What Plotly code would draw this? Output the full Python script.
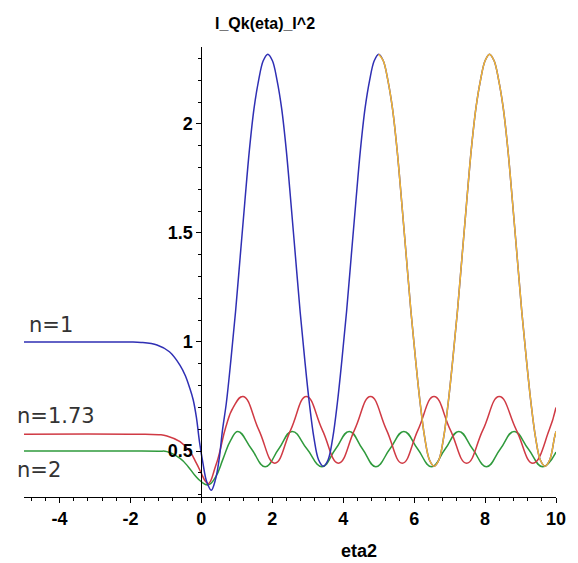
import plotly.graph_objects as go

# |Qk(eta)|^2 against eta2 for three refractive indices n
blue_x = [-5.0, -3.0, -2.0, -1.7, -1.25, -0.9, -0.6, -0.45, -0.33, -0.23, -0.14, -0.05,
          0.05, 0.15, 0.28, 0.4, 0.5, 0.6, 0.705, 0.835, 0.965, 1.095, 1.225,
          1.355, 1.485, 1.615, 1.745, 1.875, 2.005, 2.135, 2.265, 2.395, 2.525,
          2.655, 2.785, 2.915, 3.045, 3.175, 3.305, 3.44,
          3.575, 3.705, 3.835, 3.965, 4.095, 4.225, 4.355, 4.485, 4.615, 4.745,
          4.875, 5.0, 5.13, 5.26, 5.39, 5.52, 5.65, 5.78, 5.91, 6.04, 6.17, 6.3,
          6.43, 6.565, 6.7, 6.83, 6.96, 7.09, 7.22, 7.35, 7.48, 7.61, 7.74, 7.87,
          8.0, 8.125, 8.255, 8.385, 8.515, 8.645, 8.775, 8.905, 9.035, 9.165,
          9.295, 9.425, 9.555, 9.69, 9.825, 9.955, 10.0]
blue_y = [1.0, 1.0, 1.0, 0.998, 0.986, 0.955, 0.893, 0.845, 0.79, 0.735, 0.655, 0.54,
          0.44, 0.36, 0.32, 0.37, 0.46, 0.60, 0.72, 0.92, 1.14, 1.39, 1.64,
          1.88, 2.07, 2.20, 2.29, 2.32, 2.29, 2.20, 2.07, 1.88, 1.64,
          1.39, 1.14, 0.92, 0.72, 0.56, 0.46, 0.43,
          0.46, 0.56, 0.72, 0.92, 1.14, 1.39, 1.64, 1.88, 2.07, 2.20,
          2.29, 2.32, 2.29, 2.20, 2.07, 1.88, 1.64, 1.39, 1.14, 0.92, 0.72, 0.56,
          0.46, 0.43, 0.46, 0.56, 0.72, 0.92, 1.14, 1.39, 1.64, 1.88, 2.07, 2.20,
          2.29, 2.32, 2.29, 2.20, 2.07, 1.88, 1.64, 1.39, 1.14, 0.92,
          0.72, 0.56, 0.46, 0.43, 0.46, 0.56, 0.59]

red_x = [-5.0, -2.0, -1.2, -0.97, -0.6, -0.32, -0.14, 0.0, 0.1, 0.2, 0.4, 0.51, 0.69,
         0.9, 1.18, 1.62, 2.07, 2.52, 2.96, 3.41, 3.865, 4.32, 4.77, 5.22, 5.665,
         6.11, 6.56, 7.02, 7.48, 7.94, 8.40, 8.88, 9.35, 9.81, 10.0]
red_y = [0.577, 0.577, 0.575, 0.569, 0.543, 0.497, 0.444, 0.398, 0.365, 0.35, 0.43, 0.49, 0.61,
         0.70, 0.75, 0.597, 0.444, 0.597, 0.75, 0.597, 0.444, 0.597, 0.75, 0.597, 0.444,
         0.597, 0.75, 0.597, 0.444, 0.597, 0.75, 0.597, 0.444, 0.597, 0.70]

green_x = [-5.0, -2.0, -1.2, -0.97, -0.6, -0.37, -0.19, 0.0, 0.19, 0.4, 0.615, 0.83, 1.03,
           1.415, 1.80, 2.18, 2.56, 2.98, 3.40, 3.785, 4.17, 4.545, 4.92, 5.315, 5.71,
           6.10, 6.49, 6.875, 7.26, 7.65, 8.04, 8.43, 8.82, 9.22, 9.62, 10.0]
green_y = [0.5, 0.5, 0.499, 0.497, 0.466, 0.428, 0.39, 0.359, 0.344, 0.38, 0.465, 0.55, 0.59,
           0.509, 0.428, 0.509, 0.59, 0.509, 0.428, 0.509, 0.59, 0.509, 0.428, 0.509, 0.59,
           0.509, 0.428, 0.509, 0.59, 0.509, 0.428, 0.509, 0.59, 0.509, 0.428, 0.495]

# part of the n=1 curve drawn again in orange
orange_from = 4.99

x_ticks = [-4, -2, 0, 2, 4, 6, 8, 10]
x_tick_text = ["-4", "-2", "0", "2", "4", "6", "8", "10"]
y_ticks = [0.5, 1, 1.5, 2]
y_tick_text = ["0.5", "1", "1.5", "2"]

# curve labels in paper coordinates (left edge, vertical centre)
curve_labels = [("n=1", 0.0055, 0.382), ("n=1.73", -0.0166, 0.18), ("n=2", -0.0166, 0.06)]

BLUE = "#2f2fb4"
RED = "#d03a44"
GREEN = "#2f9a3c"
ORANGE = "#f2b632"
TICK_FONT = dict(family="Liberation Sans, Arial, sans-serif",
                 size=18, color="black", weight="bold")

fig = go.Figure()

def add_curve(xs, ys, color, smoothing=1.0):
    fig.add_trace(go.Scatter(x=xs, y=ys, mode="lines",
                             line=dict(color=color, width=1.5, shape="spline",
                                       smoothing=smoothing),
                             showlegend=False, hoverinfo="skip"))

add_curve(green_x, green_y, GREEN, 1.3)
add_curve(red_x, red_y, RED, 1.3)
add_curve(blue_x, blue_y, BLUE)
ox = [x for x in blue_x if x >= orange_from]
oy = [y for x, y in zip(blue_x, blue_y) if x >= orange_from]
add_curve(ox, oy, ORANGE)

for text, lx, ly in curve_labels:
    fig.add_annotation(x=lx, y=ly, xref="paper", yref="paper", text=text, showarrow=False,
                       xanchor="left", yanchor="middle",
                       font=dict(family="DejaVu Sans", size=21, color="#333333"))

fig.add_annotation(x=(365 - 24) / 542, y=-0.12, xref="paper", yref="paper", text="eta2",
                   showarrow=False, xanchor="center", yanchor="middle", font=TICK_FONT)
fig.add_annotation(x=(270 - 24) / 542, y=1.053, xref="paper", yref="paper",
                   text="I_Qk(eta)_I^2", showarrow=False, xanchor="center", yanchor="middle",
                   font=dict(TICK_FONT, size=16))

fig.update_layout(
    width=578, height=563,
    margin=dict(l=24, r=12, t=47, b=66),
    paper_bgcolor="white", plot_bgcolor="white",
    xaxis=dict(range=[-5, 10], tickmode="array", tickvals=x_ticks, ticktext=x_tick_text,
               showline=True, linecolor="black", linewidth=1,
               ticks="outside", ticklen=5, tickcolor="black", tickwidth=1,
               minor=dict(tickmode="linear", tick0=0, dtick=0.4, ticks="outside",
                          ticklen=3, tickcolor="black"),
               showgrid=False, zeroline=False, tickfont=TICK_FONT),
    yaxis=dict(range=[0.289, 2.353], anchor="free", position=1 / 3,
               tickmode="array", tickvals=y_ticks, ticktext=y_tick_text,
               showline=True, linecolor="black", linewidth=1,
               ticks="outside", ticklen=5, tickcolor="black", tickwidth=1,
               minor=dict(tickmode="linear", tick0=0, dtick=0.1, ticks="outside",
                          ticklen=3, tickcolor="black"),
               showgrid=False, zeroline=False, tickfont=TICK_FONT),
)

fig.write_html("out.html")
